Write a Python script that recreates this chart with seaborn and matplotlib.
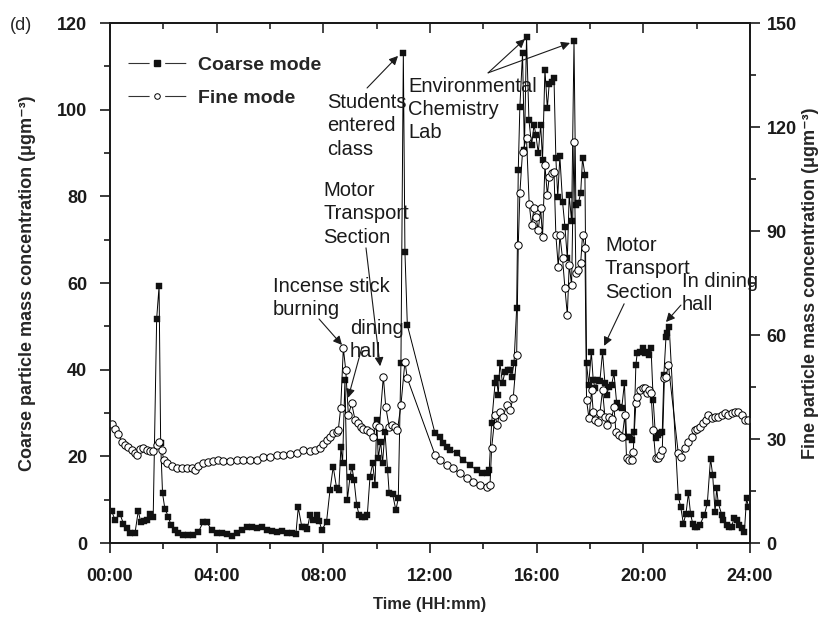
import matplotlib
matplotlib.use("Agg")
import matplotlib.pyplot as plt
from matplotlib.lines import Line2D
import pandas as pd
import seaborn as sns

# Time of day (hours) and coarse-mode mass concentration (ugm-3)
hours_coarse = [
    0.06, 0.19, 0.37, 0.50, 0.62, 0.75, 0.94, 1.06, 1.15, 1.27, 1.40, 1.50, 1.62,
    1.75, 1.84, 1.90, 1.97, 2.06, 2.19, 2.28, 2.44, 2.56, 2.75, 2.94, 3.12, 3.31,
    3.50, 3.62, 3.81, 4.00, 4.19, 4.37, 4.56, 4.75, 4.94, 5.12, 5.31, 5.50, 5.69,
    5.87, 6.06, 6.25, 6.44, 6.62, 6.81, 6.97, 7.06, 7.19, 7.31, 7.40, 7.50, 7.62,
    7.75, 7.85, 7.94, 8.12, 8.25, 8.37, 8.50, 8.58, 8.66, 8.72, 8.81, 8.90, 9.00,
    9.07, 9.15, 9.25, 9.34, 9.44, 9.56, 9.65, 9.75, 9.85, 9.94, 10.00, 10.06,
    10.15, 10.22, 10.31, 10.41, 10.47, 10.60, 10.72, 10.81, 10.91, 11.00, 11.06,
    11.15, 12.19, 12.37, 12.50, 12.62, 12.75, 13.00, 13.25, 13.50, 13.75, 13.94,
    14.12, 14.22, 14.31, 14.44, 14.50, 14.56, 14.62, 14.72, 14.81, 14.94, 15.00,
    15.06, 15.15, 15.25, 15.31, 15.37, 15.47, 15.54, 15.62, 15.71, 15.81, 15.90,
    15.97, 16.06, 16.15, 16.22, 16.31, 16.40, 16.47, 16.56, 16.65, 16.72, 16.79,
    16.87, 16.97, 17.06, 17.15, 17.22, 17.31, 17.40, 17.47, 17.56, 17.65, 17.72,
    17.81, 17.87, 17.95, 18.05, 18.12, 18.19, 18.27, 18.37, 18.47, 18.56, 18.62,
    18.72, 18.81, 18.90, 19.00, 19.10, 19.19, 19.29, 19.37, 19.47, 19.56, 19.65,
    19.72, 19.77, 19.87, 19.97, 20.06, 20.12, 20.21, 20.29, 20.37, 20.46, 20.54,
    20.62, 20.71, 20.77, 20.85, 20.90, 20.97, 21.31, 21.40, 21.50, 21.60, 21.69,
    21.77, 21.85, 21.94, 22.02, 22.12, 22.29, 22.40, 22.52, 22.60, 22.69, 22.75,
    22.81, 22.94, 23.00, 23.12, 23.22, 23.31, 23.40, 23.50, 23.60, 23.69, 23.79,
    23.87, 23.94,
]
coarse_mode = [
    7.4, 5.3, 6.8, 4.5, 3.4, 2.2, 2.4, 7.4, 4.9, 5.0, 5.2, 6.8, 6.0,
    51.8, 59.2, 23.0, 11.5, 7.8, 6.1, 4.2, 3.0, 2.2, 1.8, 1.8, 1.8, 2.5,
    4.9, 4.9, 3.0, 2.2, 2.2, 2.0, 1.6, 2.4, 3.0, 3.6, 3.7, 3.5, 3.7,
    3.0, 2.8, 2.5, 2.8, 2.2, 2.2, 2.0, 8.2, 3.8, 3.8, 3.3, 6.5, 5.3,
    6.5, 5.0, 3.0, 4.9, 12.2, 17.6, 12.6, 12.2, 22.2, 18.4, 37.6, 9.9, 15.3,
    17.6, 14.6, 8.8, 6.5, 6.1, 6.1, 6.5, 15.3, 18.4, 13.4, 28.4, 19.6,
    23.4, 18.4, 25.7, 16.8, 11.5, 11.2, 7.6, 10.3, 41.5, 113.0, 67.2,
    50.3, 25.3, 24.5, 23.0, 22.2, 21.5, 20.7, 19.2, 18.0, 16.8, 16.1,
    16.1, 16.8, 27.6, 36.9, 38.0, 34.2, 41.5, 36.9, 39.5, 40.0, 40.0,
    38.4, 41.5, 54.2, 86.1, 100.7, 113.0, 90.7, 116.8, 97.6, 91.8, 96.5,
    94.2, 90.0, 96.5, 88.4, 109.2, 100.3, 106.0, 106.5, 107.2, 88.8, 79.9,
    89.2, 78.8, 73.0, 65.7, 80.3, 74.2, 115.9, 78.0, 78.4, 80.7, 88.8,
    84.9, 41.5, 36.5, 44.1, 37.6, 35.7, 37.6, 37.3, 44.1, 36.9, 34.2,
    36.1, 36.5, 39.2, 32.2, 31.5, 31.1, 36.9, 24.5, 24.5, 23.8, 25.7,
    41.1, 43.8, 44.1, 44.9, 43.8, 44.1, 43.4, 44.9, 33.0, 24.2, 24.9,
    25.3, 25.7, 38.8, 47.6, 48.4, 49.9, 10.7, 8.4, 4.5, 6.8, 11.5,
    6.8, 4.5, 3.8, 3.8, 4.2, 6.5, 9.2, 19.5, 15.7, 7.2, 12.6,
    9.2, 6.5, 5.3, 4.2, 3.8, 3.8, 5.7, 5.3, 4.2, 3.4, 2.6,
    10.3, 8.4,
]

# Time of day (hours) and fine-mode mass concentration (ugm-3)
hours_fine = [
    0.06, 0.19, 0.31, 0.44, 0.56, 0.69, 0.81, 0.94, 1.00, 1.12, 1.25, 1.37, 1.50,
    1.62, 1.75, 1.84, 1.94, 2.02, 2.15, 2.31, 2.50, 2.69, 2.87, 3.06, 3.19, 3.31,
    3.50, 3.69, 3.87, 4.06, 4.25, 4.50, 4.75, 5.00, 5.25, 5.50, 5.75, 6.00, 6.25,
    6.50, 6.75, 7.00, 7.25, 7.50, 7.69, 7.87, 8.00, 8.12, 8.25, 8.37, 8.50, 8.56,
    8.65, 8.75, 8.84, 8.94, 9.06, 9.19, 9.31, 9.40, 9.50, 9.62, 9.75, 9.87, 9.97,
    10.10, 10.25, 10.34, 10.47, 10.56, 10.69, 10.78, 10.91, 11.06, 11.15, 12.19,
    12.37, 12.62, 12.87, 13.12, 13.37, 13.62, 13.87, 14.12, 14.25, 14.31, 14.44,
    14.52, 14.62, 14.75, 14.87, 15.00, 15.12, 15.25, 15.31, 15.37, 15.47, 15.62,
    15.72, 15.81, 15.90, 15.97, 16.06, 16.15, 16.22, 16.31, 16.40, 16.47, 16.56,
    16.65, 16.72, 16.81, 16.87, 16.97, 17.06, 17.15, 17.22, 17.31, 17.40, 17.47,
    17.56, 17.65, 17.72, 17.81, 17.87, 17.96, 18.06, 18.12, 18.19, 18.29, 18.37,
    18.47, 18.56, 18.62, 18.72, 18.81, 18.90, 18.97, 19.10, 19.21, 19.31, 19.37,
    19.47, 19.56, 19.62, 19.72, 19.77, 19.87, 19.97, 20.06, 20.12, 20.21, 20.29,
    20.37, 20.46, 20.54, 20.62, 20.71, 20.79, 20.85, 20.94, 21.31, 21.41, 21.56,
    21.69, 21.81, 21.94, 22.02, 22.12, 22.25, 22.35, 22.44, 22.56, 22.69, 22.81,
    22.94, 23.06, 23.19, 23.31, 23.44, 23.56, 23.69, 23.81, 23.94,
]
fine_mode = [
    34.2, 32.8, 31.4, 29.2, 28.3, 27.8, 26.8, 25.9, 25.4, 27.1, 27.4, 26.8, 26.4,
    26.4, 28.3, 29.2, 26.8, 24.0, 23.0, 22.3, 21.7, 21.7, 21.7, 21.7, 21.0, 22.3,
    23.0, 23.4, 23.7, 23.9, 23.7, 23.7, 24.0, 24.0, 24.0, 24.0, 24.7, 24.7, 25.4,
    25.4, 25.8, 26.1, 26.8, 26.4, 26.8, 27.4, 28.7, 29.6, 30.7, 31.6, 32.1, 32.6,
    38.8, 56.2, 49.9, 36.9, 40.3, 35.5, 34.5, 33.4, 33.0, 32.6, 32.1, 30.7, 34.0,
    33.4, 48.0, 39.3, 33.4, 34.0, 33.4, 32.6, 39.8, 52.3, 47.5, 25.4,
    23.9, 22.5, 21.5, 20.1, 18.7, 17.7, 16.7, 16.2, 16.7, 27.3, 36.9,
    34.0, 37.9, 36.4, 39.8, 38.4, 41.7, 54.2, 86.0, 100.9, 112.9, 116.7,
    97.8, 91.7, 96.5, 94.1, 90.3, 96.5, 88.3, 109.0, 100.4, 105.7, 106.7,
    107.1, 88.8, 79.7, 88.8, 82.1, 73.5, 65.8, 80.2, 74.4, 115.8, 77.8,
    78.7, 80.7, 88.8, 85.0, 41.2, 36.0, 44.1, 37.9, 35.5, 35.0, 37.4,
    44.1, 36.4, 34.0, 36.4, 35.9, 39.3, 32.1, 31.2, 30.7, 36.9, 24.4,
    23.9, 23.9, 26.3, 40.3, 42.2, 44.1, 44.6, 44.6, 43.4, 44.1, 43.2,
    32.6, 24.4, 24.4, 25.4, 26.8, 47.5, 48.0, 51.3, 25.9, 24.9, 27.3,
    29.2, 30.7, 32.6, 33.0, 33.4, 34.5, 35.5, 36.9, 36.0, 36.4, 36.4,
    36.9, 37.4, 36.9, 37.4, 37.9, 37.9, 36.9, 35.5, 35.5,
]

time_ticks = [0, 4, 8, 12, 16, 20, 24]
time_labels = ["00:00", "04:00", "08:00", "12:00", "16:00", "20:00", "24:00"]
coarse_ticks = [0, 20, 40, 60, 80, 100, 120]
fine_ticks = [0, 30, 60, 90, 120, 150]

# Event notes: text, text anchor, arrow tail, arrow head(s) in (hour, coarse units)
events = [
    ("Students\nentered\nclass", (8.14, 103.8), (9.64, 105.0), [(10.8, 112.4)]),
    ("Environmental\nChemistry\nLab", (11.18, 107.6), (14.18, 108.5),
     [(15.56, 116.3), (17.25, 115.4)]),
    ("Motor\nTransport\nSection", (7.99, 83.5), (9.6, 68.1), [(10.13, 40.8)]),
    ("Incense stick\nburning", (6.11, 61.4), (7.84, 51.7), [(8.7, 45.7)]),
    ("dining\nhall", (9.0, 51.7), (9.45, 45.2), [(8.93, 33.5)]),
    ("Motor\nTransport\nSection", (18.56, 70.8), (19.28, 55.2), [(18.53, 45.5)]),
    ("In dining\nhall", (21.45, 62.5), (21.41, 54.9), [(20.85, 51.0)]),
]

sns.set_theme(style="ticks")
plt.rcParams["font.family"] = ["Liberation Sans", "DejaVu Sans"]
plt.rcParams["axes.linewidth"] = 1.3

fig = plt.figure(figsize=(8.26, 6.21), dpi=100)
ax = fig.add_axes([110 / 826, 78 / 621, 640 / 826, 520 / 621])
ax2 = ax.twinx()

coarse_df = pd.DataFrame({"hour": hours_coarse, "conc": coarse_mode})
fine_df = pd.DataFrame({"hour": hours_fine, "conc": fine_mode})

sns.lineplot(data=coarse_df, x="hour", y="conc", ax=ax, estimator=None,
             color="black", linewidth=0.7, marker="s", markersize=4.5,
             markerfacecolor="#111111", markeredgecolor="#111111",
             markeredgewidth=0.3)
sns.lineplot(data=fine_df, x="hour", y="conc", ax=ax2, estimator=None,
             color="black", linewidth=0.7, marker="o", markersize=5.3,
             markerfacecolor="white", markeredgecolor="black",
             markeredgewidth=0.7)

ax.set_xlim(0, 24)
ax.set_ylim(0, 120)
ax2.set_ylim(0, 150)

tick_font = dict(fontsize=13, fontweight="bold")
ax.set_xticks(time_ticks, labels=time_labels, **tick_font)
ax.set_xticks([2, 6, 10, 14, 18, 22], minor=True)
ax.set_yticks(coarse_ticks, labels=[str(v) for v in coarse_ticks], **tick_font)
ax.set_yticks([10, 30, 50, 70, 90, 110], minor=True)
ax2.set_yticks(fine_ticks, labels=[str(v) for v in fine_ticks], **tick_font)
ax2.set_yticks([15, 45, 75, 105, 135], minor=True)

for a in (ax, ax2):
    a.tick_params(which="major", direction="out", length=7, width=1.2,
                  colors="#1a1a1a")
    a.tick_params(which="minor", direction="out", length=4, width=1.2,
                  colors="#1a1a1a")
    for s in a.spines.values():
        s.set_linewidth(1.3)
        s.set_color("#1a1a1a")
ax.tick_params(axis="x", which="major", pad=11)
ax.tick_params(axis="y", which="major", pad=9.5)
ax2.tick_params(axis="y", which="major", pad=5)

# Inward ticks along the top edge
top = ax.secondary_xaxis("top")
top.set_xticks(time_ticks)
top.set_xticks([2, 6, 10, 14, 18, 22], minor=True)
top.tick_params(which="major", direction="in", length=7, width=1.2,
                labeltop=False)
top.tick_params(which="minor", direction="in", length=4, width=1.2)
top.spines["top"].set_linewidth(1.3)

label_font = dict(fontsize=13, fontweight="bold")
ax.set_xlabel("Time (HH:mm)", labelpad=9, fontsize=12, fontweight="bold")
ax.set_ylabel("Coarse particle mass concentration (\u03bcgm\u207b\u00b3)",
              labelpad=15, **label_font)
ax2.set_ylabel("Fine particle mass concentration (\u03bcgm\u207b\u00b3)",
               labelpad=4, **label_font)

for text, pos, tail, heads in events:
    ax.text(pos[0], pos[1], text, fontsize=14.5, ha="left", va="top",
            linespacing=1.28, color="#1a1a1a", zorder=6)
    for head in heads:
        ax.annotate("", xy=head, xytext=tail,
                    arrowprops=dict(arrowstyle="-|>", color="#1a1a1a", lw=0.8,
                                    mutation_scale=13, shrinkA=0, shrinkB=0),
                    zorder=6)

handles = [
    Line2D([], [], color="#333333", lw=0.8, linestyle=(0, (19, 14)), marker="s",
           markersize=4, markerfacecolor="#111111", markeredgecolor="#111111"),
    Line2D([], [], color="#333333", lw=0.8, linestyle=(0, (19, 14)), marker="o",
           markersize=4, markerfacecolor="white", markeredgecolor="black",
           markeredgewidth=0.7),
]
leg = ax2.legend(handles, ["Coarse mode", "Fine mode"], loc="upper left",
                 bbox_to_anchor=(0.0, 0.97), frameon=False, handlelength=3.0,
                 handletextpad=0.6, labelspacing=0.8, numpoints=1,
                 prop=dict(size=14, weight="bold"))

fig.text(10 / 826, 1 - 25 / 621, "(d)", fontsize=13, va="center", ha="left")

fig.savefig("out.png", dpi=100)
